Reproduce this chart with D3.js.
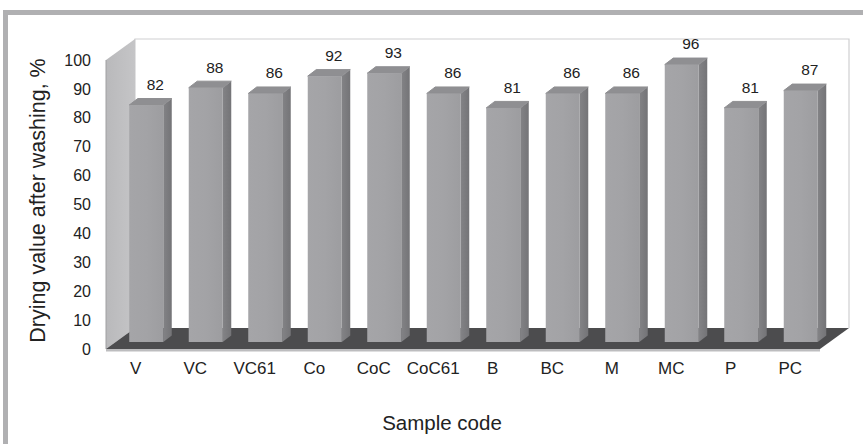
<!DOCTYPE html>
<html>
<head>
<meta charset="utf-8">
<script src="https://cdn.jsdelivr.net/npm/d3@7"></script>
<style>
  html, body { margin: 0; padding: 0; background: #fff; }
  svg { display: block; font-family: "Liberation Sans", Arial, sans-serif; }
</style>
</head>
<body>
<svg id="chart" width="863" height="444"></svg>
<script>
// Drying value after washing per sample
const categories = ["V", "VC", "VC61", "Co", "CoC", "CoC61", "B", "BC", "M", "MC", "P", "PC"];
const values = [82, 88, 86, 92, 93, 86, 81, 86, 86, 96, 81, 87];
const yTicks = [0, 10, 20, 30, 40, 50, 60, 70, 80, 90, 100];
const yTitle = "Drying value after washing, %";
const xTitle = "Sample code";

const svg = d3.select("#chart");
const FONT = "'Liberation Sans', Arial, sans-serif";

// front plane of the 3-D box
const plotLeft = 106, plotRight = 820, plotBottom = 349, plotTop = 60;
// depth of the box (oblique projection)
const depthX = 29, depthY = -21;
// bars sit partway into the box
const barDX = 10.5, barDY = -7;
const barW = 34, barDepthX = 8.5, barDepthY = -6.5;

const x = d3.scaleBand().domain(categories).range([plotLeft, plotRight]);
const y = d3.scaleLinear().domain([0, 100]).range([plotBottom, plotTop]);

// gradients
const defs = svg.append("defs");
const g1 = defs.append("linearGradient").attr("id", "front").attr("x1", 0).attr("x2", 1).attr("y1", 0).attr("y2", 0);
g1.append("stop").attr("offset", "0").attr("stop-color", "#a5a5a8");
g1.append("stop").attr("offset", "0.5").attr("stop-color", "#a3a3a6");
g1.append("stop").attr("offset", "1").attr("stop-color", "#9d9da0");
const g2 = defs.append("linearGradient").attr("id", "side").attr("x1", 0).attr("x2", 1).attr("y1", 0).attr("y2", 0);
g2.append("stop").attr("offset", "0").attr("stop-color", "#838386");
g2.append("stop").attr("offset", "1").attr("stop-color", "#747477");
const g3 = defs.append("linearGradient").attr("id", "wall").attr("x1", 0).attr("x2", 1).attr("y1", 0).attr("y2", 0);
g3.append("stop").attr("offset", "0").attr("stop-color", "#b9b9bb");
g3.append("stop").attr("offset", "1").attr("stop-color", "#c5c5c7");

// outer frame
svg.append("path")
  .attr("d", `M5.5,444 V12.5 H863`)
  .attr("fill", "none").attr("stroke", "#b0b0b2").attr("stroke-width", 5);

const backL = plotLeft + depthX, backR = plotRight + depthX;
const backTop = y(100) + depthY, backBottom = y(0) + depthY;

// back wall
svg.append("path")
  .attr("d", `M${backL},${backBottom} V${backTop} H${backR} V${backBottom}`)
  .attr("fill", "#fff").attr("stroke", "#cfcfd1").attr("stroke-width", 1.2);

// side wall
svg.append("path")
  .attr("d", `M${plotLeft},${y(0)} L${plotLeft},${y(100)} L${backL},${backTop} L${backL},${backBottom} Z`)
  .attr("fill", "url(#wall)");
svg.append("line")
  .attr("x1", plotLeft).attr("x2", plotLeft).attr("y1", y(0)).attr("y2", y(100))
  .attr("stroke", "#a0a0a2").attr("stroke-width", 1);

// floor
svg.append("path")
  .attr("d", `M${plotLeft},${y(0)} L${backL},${backBottom} L${backR},${backBottom} L${plotRight},${y(0)} Z`)
  .attr("fill", "#4c4c4e");
svg.append("rect")
  .attr("x", plotLeft).attr("y", y(0)).attr("width", plotRight - plotLeft).attr("height", 2.5)
  .attr("fill", "#bdbdbf");

// bars
const bars = svg.append("g").selectAll("g").data(categories).join("g");
bars.each(function (c, i) {
  const g = d3.select(this);
  const cx = x(c) + x.bandwidth() / 2 + barDX;
  const x0 = cx - barW / 2, x1 = cx + barW / 2;
  const yb = y(0) + barDY, yt = y(values[i]) + barDY;
  // side face
  g.append("path")
    .attr("d", `M${x1},${yb} L${x1},${yt} L${x1 + barDepthX},${yt + barDepthY} L${x1 + barDepthX},${yb + barDepthY} Z`)
    .attr("fill", "url(#side)");
  // top face
  g.append("path")
    .attr("d", `M${x0},${yt} L${x0 + barDepthX},${yt + barDepthY} L${x1 + barDepthX},${yt + barDepthY} L${x1},${yt} Z`)
    .attr("fill", "#8f8f92").attr("stroke", "#8f8f92").attr("stroke-width", 1).attr("stroke-linejoin", "round");
  // front face
  g.append("rect")
    .attr("x", x0).attr("y", yt).attr("width", barW).attr("height", yb - yt)
    .attr("fill", "url(#front)");
  // value label
  g.append("text")
    .attr("x", cx + 9).attr("y", yt + barDepthY - 14)
    .attr("dy", "0.35em")
    .attr("text-anchor", "middle")
    .attr("font-size", 15.5).attr("fill", "#222")
    .text(values[i]);
});

// y axis
const yAxis = svg.append("g")
  .attr("transform", `translate(${plotLeft},0)`)
  .call(d3.axisLeft(y).tickValues(yTicks).tickSize(0).tickPadding(15).tickFormat(d3.format("d")));
yAxis.select(".domain").remove();
yAxis.selectAll("text").attr("font-size", 16).attr("fill", "#222").attr("font-family", FONT);

// x axis
const xAxis = svg.append("g")
  .attr("transform", `translate(0,${y(0) + 19})`)
  .call(d3.axisBottom(x).tickSize(0).tickPadding(0));
xAxis.select(".domain").remove();
xAxis.selectAll("text").attr("font-size", 17).attr("fill", "#222")
  .attr("dy", "0.35em").attr("font-family", FONT);

// titles
svg.append("text")
  .attr("transform", `translate(37,${(y(0) + y(100)) / 2 - 4}) rotate(-90)`)
  .attr("text-anchor", "middle").attr("dy", "0.35em")
  .attr("font-size", 21.5).attr("fill", "#222")
  .text(yTitle);

svg.append("text")
  .attr("x", 442).attr("y", 423)
  .attr("text-anchor", "middle").attr("dy", "0.35em")
  .attr("font-size", 20.5).attr("fill", "#222")
  .text(xTitle);
</script>
</body>
</html>
